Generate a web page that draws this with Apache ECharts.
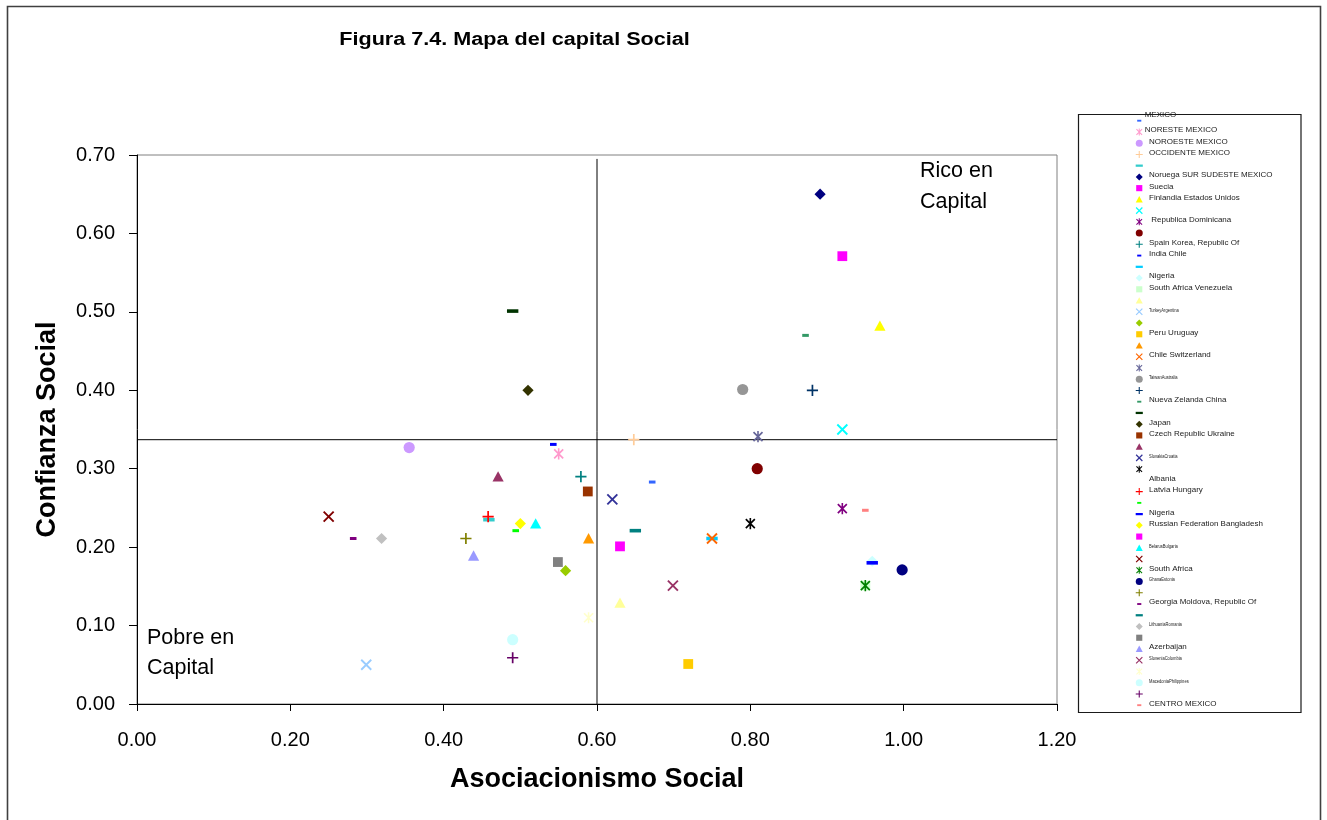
<!DOCTYPE html>
<html>
<head>
<meta charset="utf-8">
<title>Mapa del capital Social</title>
<script src="https://cdn.jsdelivr.net/npm/echarts@6/dist/echarts.min.js"></script>
<style>
  html, body { margin: 0; padding: 0; background: #ffffff; }
  #chart { width: 1327px; height: 820px; }
</style>
</head>
<body>
<div id="chart"></div>
<script>
// ---------------------------------------------------------------------------
// Data
// ---------------------------------------------------------------------------

// Caption written next to each legend slot ('' where the slot has none)
const legendLabels = [
  'MEXICO', 'NORESTE MEXICO', 'NOROESTE MEXICO', 'OCCIDENTE MEXICO', '',
  'Noruega SUR SUDESTE MEXICO', 'Suecia', 'Finlandia Estados Unidos', '', ' Republica Dominicana',
  '', 'Spain Korea, Republic Of', 'India Chile', '', 'Nigeria',
  'South Africa Venezuela', '', 'TurkeyArgentina', '', 'Peru Uruguay',
  '', 'Chile Switzerland', '', 'TaiwanAustralia', '',
  'Nueva Zelanda China', '', 'Japan', 'Czech Republic Ukraine', '',
  'SlovakiaCroatia', '', 'Albania', 'Latvia Hungary', '',
  'Nigeria', 'Russian Federation Bangladesh', '', 'BelarusBulgaria', '',
  'South Africa', 'GhanaEstonia', '', 'Georgia Moldova, Republic Of', '',
  'LithuaniaRomania', '', 'Azerbaijan', 'SloveniaColombia', '',
  'MacedoniaPhilippines', '', 'CENTRO MEXICO'
];

// Asociacionismo Social (x) of each series; null = no point
const asociacionismo = [
  0.672, 0.550, 0.355, 0.648, 0.459,
  0.891, 0.920, 0.969, 0.920, 0.920,
  0.809, 0.579, 0.543, 0.750, 0.959,
  0.950, 0.630, 0.299, 0.559, 0.719,
  0.589, 0.750, 0.810, 0.790, 0.881,
  0.872, 0.490, 0.510, 0.588, 0.471,
  0.620, 0.800, null, 0.458, 0.494,
  0.959, 0.500, 0.630, 0.520, 0.250,
  0.950, 0.998, 0.429, 0.282, 0.650,
  0.319, 0.549, 0.439, 0.699, 0.589,
  0.490, 0.490, 0.950
];

// Confianza Social (y) of each series; null = no point
const confianza = [
  0.283, 0.319, 0.327, 0.337, 0.235,
  0.650, 0.571, 0.482, 0.350, 0.249,
  0.300, 0.290, 0.331, 0.211, 0.182,
  0.151, 0.129, 0.050, 0.170, 0.051,
  0.211, 0.211, 0.341, 0.401, 0.400,
  0.470, 0.501, 0.400, 0.271, 0.290,
  0.261, 0.230, null, 0.239, 0.221,
  0.180, 0.230, 0.201, 0.230, 0.239,
  0.151, 0.171, 0.211, 0.211, 0.221,
  0.211, 0.181, 0.189, 0.151, 0.110,
  0.082, 0.059, 0.247
];

// Quadrant dividers
const dividerX = 0.6;
const dividerY = 0.337;
const dividerXTop = 0.695;

// Axis extents
const xRange = [0, 1.2, 0.2];
const yRange = [0, 0.7, 0.1];

// ---------------------------------------------------------------------------
// Marker styles (shape, colour) per series
// ---------------------------------------------------------------------------
const markerShapes = [
  'dash', 'asterisk', 'circle', 'plus', 'longdash',
  'diamond', 'square', 'triangle', 'cross', 'asterisk',
  'circle', 'plus', 'dash', 'longdash', 'diamond',
  'square', 'triangle', 'cross', 'diamond', 'square',
  'triangle', 'cross', 'asterisk', 'circle', 'plus',
  'dash', 'longdash', 'diamond', 'square', 'triangle',
  'cross', 'asterisk', 'circle', 'plus', 'dash',
  'longdash', 'diamond', 'square', 'triangle', 'cross',
  'asterisk', 'circle', 'plus', 'dash', 'longdash',
  'diamond', 'square', 'triangle', 'cross', 'asterisk',
  'circle', 'plus', 'dash'
];
const markerColors = [
  '#3366FF', '#FF99CC', '#CC99FF', '#FFCC99', '#33CCCC',
  '#000080', '#FF00FF', '#FFFF00', '#00FFFF', '#800080',
  '#800000', '#008080', '#0000FF', '#00CCFF', '#CCFFFF',
  '#CCFFCC', '#FFFF99', '#99CCFF', '#99CC00', '#FFCC00',
  '#FF9900', '#FF6600', '#666699', '#969696', '#003366',
  '#339966', '#003300', '#333300', '#993300', '#993366',
  '#333399', '#000000', '#FFFFFF', '#FF0000', '#00FF00',
  '#0000FF', '#FFFF00', '#FF00FF', '#00FFFF', '#800000',
  '#008000', '#000080', '#808000', '#800080', '#008080',
  '#C0C0C0', '#808080', '#9999FF', '#993366', '#FFFFCC',
  '#CCFFFF', '#660066', '#FF8080'
];

// All shapes share a 12x12 frame so that every marker keeps its own
// proportions when scaled (the leading moves pin the bounding box).
const FRAME = 'M0,0M12,12';
const SHAPES = {
  diamond: 'M6,0.4L11.6,6L6,11.6L0.4,6Z',
  square: 'M1.1,1.1H10.9V10.9H1.1Z',
  triangle: 'M6,0.6L11.6,10.9H0.4Z',
  circle: 'M0.4,6A5.6,5.6,0,1,1,11.6,6A5.6,5.6,0,1,1,0.4,6Z',
  cross: 'M1.67,0.33L11.67,10.33L10.33,11.67L0.33,1.67Z M10.33,0.33L11.67,1.67L1.67,11.67L0.33,10.33Z',
  plus: 'M5.15,0.4H6.85V11.6H5.15Z M0.4,5.15H11.6V6.85H0.4Z',
  asterisk: 'M2.1,0.9L11.1,9.9L9.9,11.1L0.9,2.1Z M9.9,0.9L11.1,2.1L2.1,11.1L0.9,9.9Z M5.2,0.4H6.8V11.6H5.2Z',
  dash: 'M2.7,4.5H9.3V7.5H2.7Z',
  longdash: 'M0.3,4.2H11.7V7.8H0.3Z'
};
const symbolOf = kind => 'path://' + FRAME + SHAPES[kind];

// ---------------------------------------------------------------------------
// Layout
// ---------------------------------------------------------------------------
const FONT = '"Liberation Sans", Arial, Helvetica, sans-serif';
const GRID = { left: 137, top: 155, width: 920, height: 549 };

const LEGEND_TOP = 116.95;
const LEGEND_ICON = 7.5;
const LEGEND_STEP = 11.24;
const LEGEND_ICON_LEFT = 1135.5;
const LEGEND_TEXT_X = 1149;
const smallCaptionSlots = [17, 23, 30, 38, 41, 45, 48, 50];
const captionShift = { 0: { dx: -4.3, dy: -6 }, 1: { dx: -4.3, dy: -1.8 } };

const seriesNames = legendLabels.map((_, i) => 'Serie ' + (i + 1));

// ---------------------------------------------------------------------------
// Series
// ---------------------------------------------------------------------------
const scatterSeries = seriesNames.map((name, i) => ({
  type: 'scatter',
  name: name,
  data: asociacionismo[i] == null ? [] : [[asociacionismo[i], confianza[i]]],
  symbol: symbolOf(markerShapes[i]),
  symbolSize: 12,
  symbolKeepAspect: true,
  itemStyle: { color: markerColors[i], opacity: 1, borderWidth: 0 },
  emphasis: { disabled: true },
  silent: true,
  z: 3
}));

const dividerSeries = [
  {
    type: 'line',
    name: 'divisor-x',
    data: [[dividerX, yRange[0]], [dividerX, dividerXTop]],
    symbol: 'none',
    lineStyle: { color: '#000000', width: 1 },
    silent: true,
    z: 2
  },
  {
    type: 'line',
    name: 'divisor-y',
    data: [[xRange[0], dividerY], [xRange[1], dividerY]],
    symbol: 'none',
    lineStyle: { color: '#000000', width: 1 },
    silent: true,
    z: 2
  }
];

// ---------------------------------------------------------------------------
// Free text: title, quadrant notes, legend frame and captions
// ---------------------------------------------------------------------------
function textEl(x, y, text, opts) {
  const o = opts || {};
  return {
    type: 'text',
    x: x,
    y: y,
    scaleX: o.scaleX || 1,
    silent: true,
    z: 10,
    style: {
      text: text,
      x: 0,
      y: 0,
      fill: o.color || '#000000',
      fontFamily: FONT,
      fontSize: o.size || 12,
      fontWeight: o.weight || 'normal',
      align: o.align || 'left',
      textAlign: o.align || 'left',
      verticalAlign: 'middle',
      textVerticalAlign: 'middle'
    }
  };
}

const graphics = [
  {
    type: 'rect',
    silent: true,
    z: 0,
    shape: { x: 7.5, y: 6.5, width: 1313, height: 840 },
    style: { fill: 'none', stroke: '#404040', lineWidth: 1.6 }
  },
  textEl(514.5, 40, 'Figura 7.4. Mapa del capital Social', { size: 18, weight: 'bold', align: 'center', scaleX: 1.2 }),
  textEl(920, 171.5, 'Rico en', { size: 21.5 }),
  textEl(920, 202.5, 'Capital', { size: 21.5 }),
  textEl(147, 638.5, 'Pobre en', { size: 21.5 }),
  textEl(147, 668.5, 'Capital', { size: 21.5 }),
  {
    type: 'rect',
    silent: true,
    z: 1,
    shape: { x: 1078.5, y: 114.5, width: 222.5, height: 598 },
    style: { fill: '#ffffff', stroke: '#1a1a1a', lineWidth: 1.2 }
  }
];

legendLabels.forEach((label, i) => {
  if (!label) return;
  const shift = captionShift[i] || { dx: 0, dy: -1.8 };
  const cy = LEGEND_TOP + LEGEND_ICON / 2 + i * LEGEND_STEP + shift.dy;
  const small = smallCaptionSlots.indexOf(i) >= 0;
  graphics.push(textEl(LEGEND_TEXT_X + shift.dx, cy, label, {
    size: small ? 6 : 8,
    scaleX: small ? 0.68 : 1,
    color: '#1a1a1a'
  }));
});

// ---------------------------------------------------------------------------
// Chart
// ---------------------------------------------------------------------------
const chart = echarts.init(document.getElementById('chart'), null, { renderer: 'canvas' });

const axisCommon = {
  type: 'value',
  splitLine: { show: false },
  axisLine: { show: true, onZero: false, lineStyle: { color: '#000000', width: 1 } },
  axisTick: { show: true, inside: false, length: 7, lineStyle: { color: '#000000', width: 1 } },
  nameLocation: 'middle',
  nameMoveOverlap: false,
  nameTextStyle: { fontFamily: FONT, fontSize: 27, fontWeight: 'bold', color: '#000000' }
};

chart.setOption({
  backgroundColor: '#ffffff',
  animation: false,
  tooltip: { show: false },
  grid: {
    left: GRID.left,
    top: GRID.top,
    width: GRID.width,
    height: GRID.height,
    containLabel: false,
    outerBoundsMode: 'none',
    show: true,
    backgroundColor: 'transparent',
    borderColor: '#808080',
    borderWidth: 1
  },
  xAxis: Object.assign({}, axisCommon, {
    min: xRange[0],
    max: xRange[1],
    interval: xRange[2],
    name: 'Asociacionismo Social',
    nameGap: 62,
    axisLabel: {
      formatter: v => v.toFixed(2),
      fontFamily: FONT,
      fontSize: 20,
      color: '#000000',
      margin: 26
    }
  }),
  yAxis: Object.assign({}, axisCommon, {
    min: yRange[0],
    max: yRange[1],
    interval: yRange[2],
    name: 'Confianza Social',
    nameGap: 76,
    nameRotate: 90,
    axisTick: { show: true, inside: false, length: 8, lineStyle: { color: '#000000', width: 1 } },
    axisLabel: {
      formatter: v => v.toFixed(2),
      fontFamily: FONT,
      fontSize: 20,
      color: '#000000',
      margin: 22
    }
  }),
  legend: {
    show: true,
    orient: 'vertical',
    left: LEGEND_ICON_LEFT,
    top: LEGEND_TOP,
    padding: 0,
    itemWidth: LEGEND_ICON,
    itemHeight: LEGEND_ICON,
    itemGap: LEGEND_STEP - LEGEND_ICON,
    symbolKeepAspect: true,
    selectedMode: false,
    formatter: () => '',
    textStyle: { fontSize: 4, lineHeight: 4 },
    itemStyle: { borderWidth: 0 },
    z: 5,
    data: seriesNames
  },
  graphic: { elements: graphics },
  series: dividerSeries.concat(scatterSeries)
});
</script>
</body>
</html>
